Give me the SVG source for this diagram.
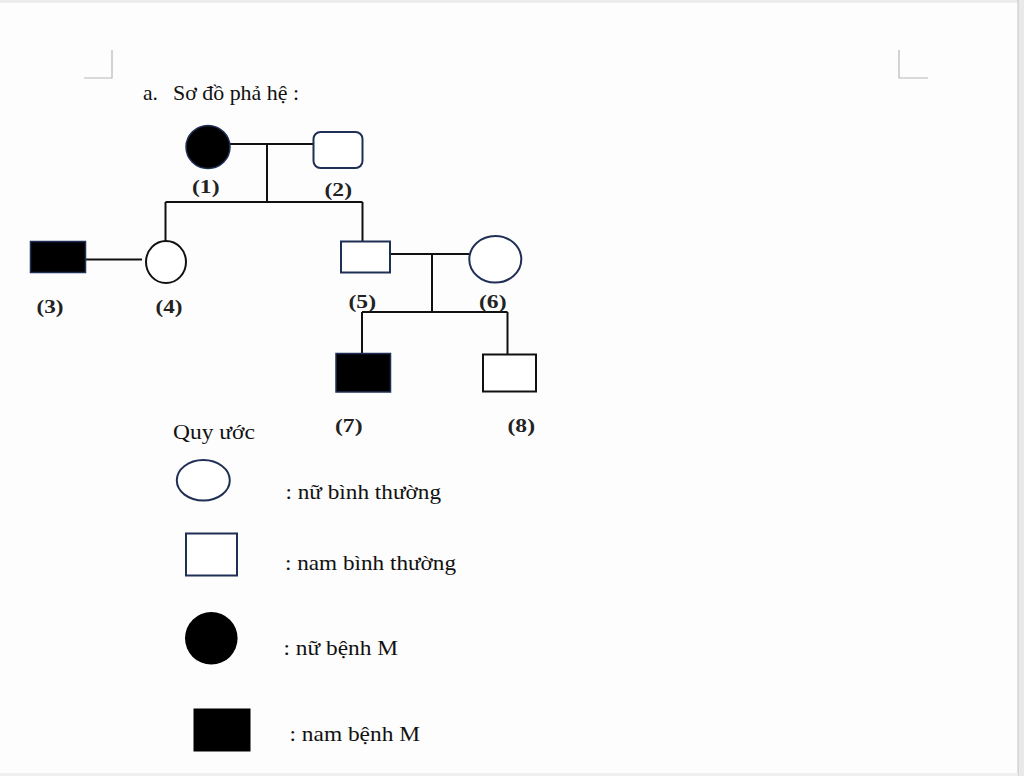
<svg xmlns="http://www.w3.org/2000/svg" width="1024" height="776" viewBox="0 0 1024 776">
<style>
.lbl{font-family:"Liberation Serif","Times New Roman",serif;font-weight:bold;font-size:19.5px;fill:#222}
.txt{font-family:"Liberation Serif","Times New Roman",serif;font-size:22px;fill:#111}
.ln{stroke:#111;stroke-width:2;fill:none}
.nv{stroke:#1f2f55;stroke-width:2;fill:#fff}
.bk{stroke:#111;stroke-width:2;fill:#fff}
.fill{fill:#000;stroke:#1f2f55;stroke-width:1.5}
.crn{stroke:#b8b8b8;stroke-width:1.2;fill:none}
</style>
<rect x="0" y="0" width="1024" height="776" fill="#fdfdfd"/>
<rect x="0" y="0" width="1024" height="3" fill="#ececec"/>
<rect x="1018" y="0" width="6" height="776" fill="#e9e9e9"/>
<line x1="1018" y1="0" x2="1018" y2="776" stroke="#c4c4c4" stroke-width="1"/>
<rect x="0" y="773" width="1018" height="3" fill="#efefef"/>
<path class="crn" d="M112 50V78H84"/>
<path class="crn" d="M899 50V78H928"/>
<text class="txt" x="143" y="100" font-size="20.5" textLength="15" lengthAdjust="spacingAndGlyphs">a.</text>
<text class="txt" x="173" y="100" font-size="20.5" textLength="126" lengthAdjust="spacingAndGlyphs">Sơ đồ phả hệ :</text>
<g id="connectors">
<path class="ln" d="M230 144H313"/>
<path class="ln" d="M267 144V202"/>
<path class="ln" d="M165.5 202H362.5"/>
<path class="ln" d="M165.5 202V241"/>
<path class="ln" d="M362.5 202V241"/>
<path class="ln" d="M86 259.5H142"/>
<path class="ln" d="M390 254H469"/>
<path class="ln" d="M432 254V312"/>
<path class="ln" d="M362 312H507.5"/>
<path class="ln" d="M362 312V353"/>
<path class="ln" d="M507.5 312V354"/>
</g>
<g id="n1"><ellipse cx="208" cy="147" rx="22" ry="21.5" class="fill"/><text class="lbl" x="192" y="193" textLength="27.5" lengthAdjust="spacingAndGlyphs">(1)</text></g>
<g id="n2"><rect x="313.5" y="132" width="49" height="36" rx="7" class="nv"/><text class="lbl" x="324.5" y="196" textLength="27.5" lengthAdjust="spacingAndGlyphs">(2)</text></g>
<g id="n3"><rect x="30.5" y="241.5" width="55" height="31" class="fill"/><text class="lbl" x="36.5" y="313" textLength="27" lengthAdjust="spacingAndGlyphs">(3)</text></g>
<g id="n4"><ellipse cx="166" cy="262" rx="20" ry="21" class="bk"/><text class="lbl" x="155.5" y="313" textLength="27" lengthAdjust="spacingAndGlyphs">(4)</text></g>
<g id="n5"><rect x="341" y="241.5" width="49" height="31" class="nv"/><text class="lbl" x="348.5" y="307.5" textLength="27.5" lengthAdjust="spacingAndGlyphs">(5)</text></g>
<g id="n6"><ellipse cx="495.3" cy="259.3" rx="26" ry="23.3" class="nv"/><text class="lbl" x="479" y="307.5" textLength="27.5" lengthAdjust="spacingAndGlyphs">(6)</text></g>
<g id="n7"><rect x="336" y="353.5" width="54.5" height="38.5" class="fill" stroke="#000"/><text class="lbl" x="335" y="432" textLength="27.5" lengthAdjust="spacingAndGlyphs">(7)</text></g>
<g id="n8"><rect x="483" y="354.5" width="53" height="37" class="bk"/><text class="lbl" x="507.5" y="432" textLength="27.5" lengthAdjust="spacingAndGlyphs">(8)</text></g>
<g id="legend">
<text class="txt" x="173" y="439" textLength="82" lengthAdjust="spacingAndGlyphs">Quy ước</text>
<ellipse cx="203.3" cy="480.3" rx="26.5" ry="20.3" class="nv"/>
<text class="txt" x="285.5" y="498.5" textLength="155.5" lengthAdjust="spacingAndGlyphs">: nữ bình thường</text>
<rect x="186" y="533.5" width="51" height="42" class="nv"/>
<text class="txt" x="285" y="570" textLength="171" lengthAdjust="spacingAndGlyphs">: nam bình thường</text>
<circle cx="211.3" cy="638.3" r="26.3" fill="#000"/>
<text class="txt" x="283.5" y="655" textLength="114.5" lengthAdjust="spacingAndGlyphs">: nữ bệnh M</text>
<rect x="193.5" y="708.5" width="57" height="43" fill="#000"/>
<text class="txt" x="289.5" y="741" textLength="130.5" lengthAdjust="spacingAndGlyphs">: nam bệnh M</text>
</g>
</svg>
